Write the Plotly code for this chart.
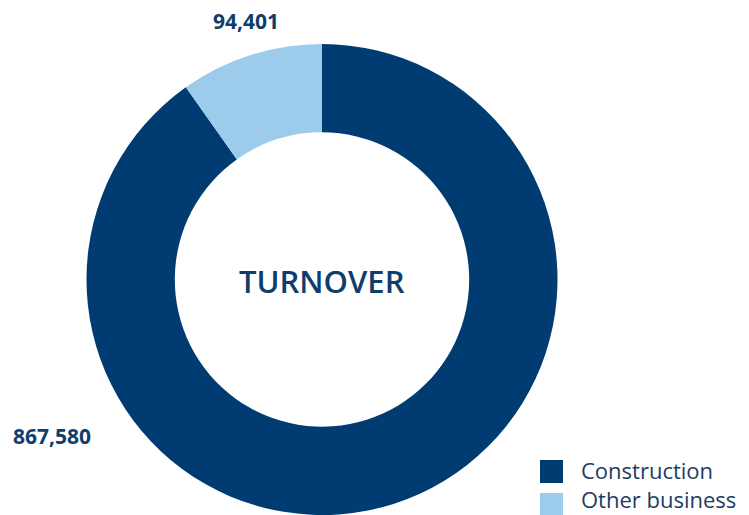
import plotly.graph_objects as go

# Turnover split by business line
labels = ["Construction", "Other business"]
values = [867580, 94401]
colors = ["#003B71", "#9DCBEC"]
center_title = "TURNOVER"

text_color = "#0E3D6E"
font_family = "Open Sans, Noto Sans, sans-serif"

W, H = 749, 515
M_TOP = 44
PLOT_H = H - M_TOP


def px_to_paper(px, py):
    """Convert a pixel position on the page into paper coordinates."""
    return px / W, 1 - (py - M_TOP) / PLOT_H


fig = go.Figure()
fig.add_trace(go.Pie(
    labels=labels,
    values=values,
    hole=0.625,
    sort=False,
    direction="clockwise",
    rotation=0,
    marker=dict(colors=colors, line=dict(width=0)),
    textinfo="none",
    hoverinfo="label+value",
    showlegend=False,
    domain=dict(x=[0, 0.8598], y=[0, 1]),
))

# Value labels beside the ring
value_pos = [(52, 436), (246, 21)]
annotations = []
for v, (px, py) in zip(values, value_pos):
    x, y = px_to_paper(px, py)
    annotations.append(dict(
        x=x, y=y, xref="paper", yref="paper",
        text=f"<b>{v:,}</b>", showarrow=False,
        font=dict(family=font_family, size=21, color=text_color),
        xanchor="center", yanchor="middle",
    ))

# Title in the hole
x, y = px_to_paper(322, 281)
annotations.append(dict(
    x=x, y=y, xref="paper", yref="paper",
    text=center_title, showarrow=False,
    font=dict(family=font_family, size=31, color=text_color, weight=600),
    xanchor="center", yanchor="middle",
))

# Legend drawn as swatches with labels
swatch_tops = [460, 493]
label_centers = [470, 499]
shapes = []
for lab, col, top, mid in zip(labels, colors, swatch_tops, label_centers):
    x0, y1 = px_to_paper(540, top)
    x1, y0 = px_to_paper(563, top + 23)
    shapes.append(dict(
        type="rect", xref="paper", yref="paper",
        x0=x0, x1=x1, y0=y0, y1=y1,
        fillcolor=col, line=dict(width=0),
    ))
    tx, ty = px_to_paper(579, mid)
    annotations.append(dict(
        x=tx, y=ty, xref="paper", yref="paper",
        text=lab, showarrow=False,
        font=dict(family=font_family, size=22, color="#1B3D63"),
        xanchor="left", yanchor="middle",
    ))

fig.update_layout(
    width=W, height=H,
    margin=dict(l=0, r=0, t=M_TOP, b=0),
    paper_bgcolor="white",
    plot_bgcolor="white",
    annotations=annotations,
    shapes=shapes,
)

fig.write_html("out.html")
